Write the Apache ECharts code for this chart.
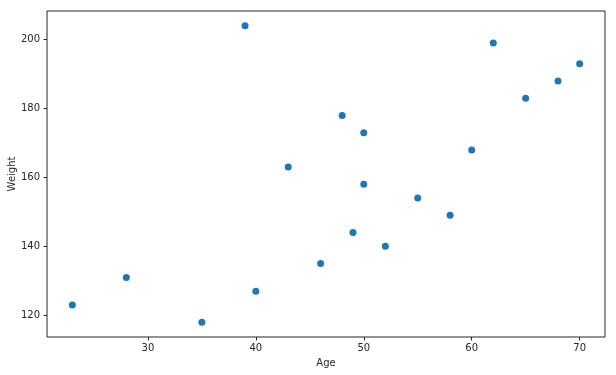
<!DOCTYPE html>
<html>
<head>
<meta charset="utf-8">
<script src="https://cdn.jsdelivr.net/npm/echarts@6/dist/echarts.min.js"></script>
<style>html,body{margin:0;padding:0;background:#fff;}#c{width:616px;height:375px;}</style>
</head>
<body>
<div id="c"></div>
<script>
var ages = [23, 28, 35, 39, 40, 43, 46, 48, 49, 50, 50, 52, 55, 58, 60, 62, 65, 68, 70];
var weights = [123, 131, 118, 204, 127, 163, 135, 178, 144, 173, 158, 140, 154, 149, 168, 199, 183, 188, 193];
var xTicks = [30, 40, 50, 60, 70];
var yTicks = [120, 140, 160, 180, 200];

var points = ages.map(function (a, i) { return [a, weights[i]]; });
var font = 'DejaVu Sans';
var ink = '#262626';

var chart = echarts.init(document.getElementById('c'), null, {renderer: 'canvas'});
chart.setOption({
  animation: false,
  backgroundColor: '#fff',
  grid: {left: 47, right: 11, top: 11, bottom: 38, outerBoundsMode: 'none', containLabel: false,
         show: true, borderColor: ink, borderWidth: 1, backgroundColor: 'transparent'},
  xAxis: {
    type: 'value', min: 20.65, max: 72.35,
    name: 'Age', nameLocation: 'middle', nameGap: 21, nameMoveOverlap: false,
    nameTextStyle: {fontFamily: font, fontSize: 10, color: ink},
    axisLine: {show: false},
    splitLine: {show: false},
    axisTick: {show: true, inside: false, length: 3.5, customValues: xTicks, lineStyle: {color: ink, width: 1}},
    axisLabel: {customValues: xTicks, margin: 6, fontFamily: font, fontSize: 10, color: ink}
  },
  yAxis: {
    type: 'value', min: 113.7, max: 208.3,
    name: 'Weight', nameLocation: 'middle', nameGap: 30, nameRotate: 90, nameMoveOverlap: false,
    nameTextStyle: {fontFamily: font, fontSize: 10, color: ink},
    axisLine: {show: false},
    splitLine: {show: false},
    axisTick: {show: true, inside: false, length: 3.5, customValues: yTicks, lineStyle: {color: ink, width: 1}},
    axisLabel: {customValues: yTicks, margin: 7, fontFamily: font, fontSize: 10, color: ink}
  },
  series: [{
    type: 'scatter',
    data: points,
    symbol: 'circle',
    symbolSize: 7,
    itemStyle: {color: '#1f77b4', opacity: 1},
    silent: true
  }]
});
</script>
</body>
</html>
